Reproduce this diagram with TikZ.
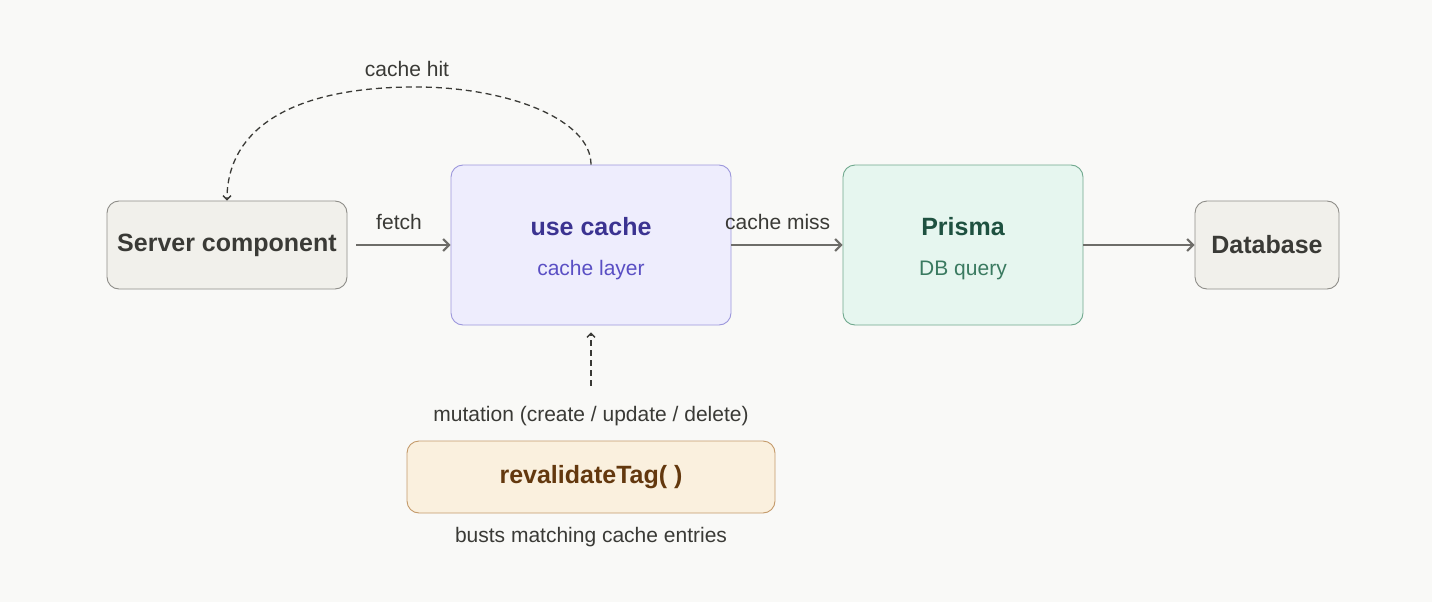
\documentclass[tikz,border=0pt]{standalone}
\usepackage{fontspec}
\setmainfont{Liberation Sans}
\usetikzlibrary{arrows.meta}
\definecolor{bg}{HTML}{F9F9F7}
\definecolor{graybox}{HTML}{F1F0EB}
\definecolor{grayline}{HTML}{8E8D88}
\definecolor{txt}{HTML}{3A3A36}
\definecolor{purfill}{HTML}{EEEDFD}
\definecolor{purline}{HTML}{9C97DC}
\definecolor{purtxt}{HTML}{3B3391}
\definecolor{purtxt2}{HTML}{5A4FC4}
\definecolor{grnfill}{HTML}{E6F6EF}
\definecolor{grnline}{HTML}{6FA88D}
\definecolor{grntxt}{HTML}{1E5140}
\definecolor{grntxt2}{HTML}{3A7A60}
\definecolor{orfill}{HTML}{FAF0DE}
\definecolor{orline}{HTML}{C49A6A}
\definecolor{ortxt}{HTML}{63380E}
\definecolor{arr}{HTML}{6E6D69}
\begin{document}
\begin{tikzpicture}[x=1pt,y=-1pt,
  box/.style={draw,rounded corners=12pt,line width=0.9pt,inner sep=0pt},
  ttl/.style={font=\fontsize{25}{30}\selectfont\bfseries},
  sub/.style={font=\fontsize{21}{25}\selectfont},
  lbl/.style={font=\fontsize{21}{25}\selectfont,text=txt},
  solidarr/.style={draw=arr,line width=2pt,-{Straight Barb[length=6pt,width=12pt]}},
  dasharr/.style={draw=txt,line width=1.3pt,dash pattern=on 6pt off 4pt,-{Straight Barb[length=4pt,width=8pt]}}]
\fill[bg] (0,0) rectangle (1432,602);
\useasboundingbox (0,0) rectangle (1432,602);
\node[box,draw=grayline,fill=graybox,minimum width=240pt,minimum height=88pt,ttl,text=txt] (sc) at (227,245) {Server component};
\node[box,draw=purline,fill=purfill,minimum width=280pt,minimum height=160pt] (uc) at (591,245) {};
\node[ttl,text=purtxt] (uct) at (591,227) {use cache};
\node[sub,text=purtxt2] (ucs) at (591,270) {cache layer};
\node[box,draw=grnline,fill=grnfill,minimum width=240pt,minimum height=160pt] (pr) at (963,245) {};
\node[ttl,text=grntxt] (prt) at (963,227) {Prisma};
\node[sub,text=grntxt2] (prs) at (963,270) {DB query};
\node[box,draw=grayline,fill=graybox,minimum width=144pt,minimum height=88pt,ttl,text=txt] (db) at (1267,245) {Database};
\node[box,draw=orline,fill=orfill,minimum width=368pt,minimum height=72pt,ttl,text=ortxt] (rv) at (591,477) {revalidateTag( )};
\node[lbl] (hit) at (407,69) {cache hit};
\node[lbl] (fe) at (399,222) {fetch};
\node[lbl,anchor=west,inner sep=0pt] (miss) at (725,222) {cache miss};
\node[lbl] (mut) at (591,416) {mutation (create / update / delete)};
\node[lbl] (bu) at (591,537) {busts matching cache entries};
\coordinate (mutTop) at (591,386);
\draw[solidarr] (sc.east) ++(9,0) -- (uc.west);
\draw[solidarr] (uc.east) -- (pr.west);
\draw[solidarr] (pr.east) -- (db.west);
\draw[dasharr] (uc.north) .. controls (591,120) and (510,88) .. (420,87) .. controls (290,86) and (227,130) .. (sc.north);
\draw[dasharr] (mutTop) -- ([yshift=-7pt]uc.south);
\end{tikzpicture}
\end{document}
